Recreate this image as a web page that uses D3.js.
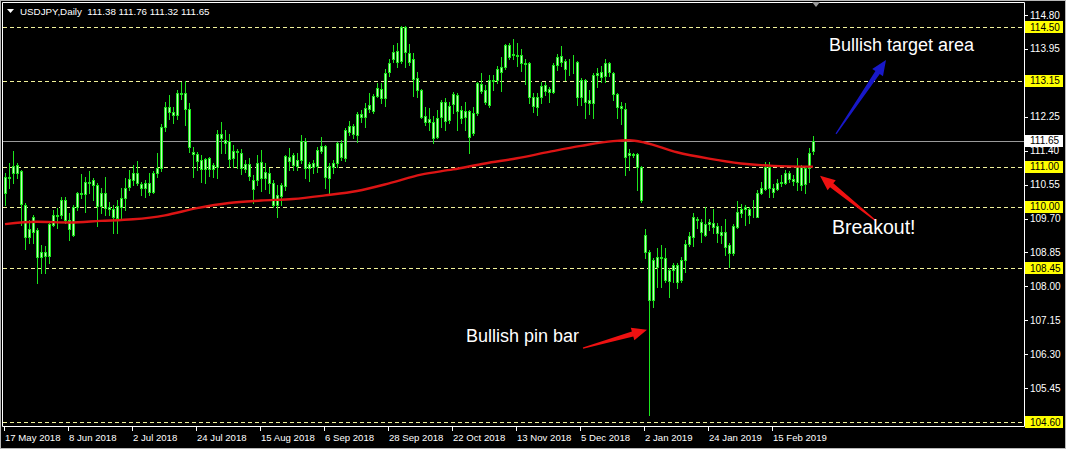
<!DOCTYPE html>
<html>
<head>
<meta charset="utf-8">
<script src="https://cdn.jsdelivr.net/npm/d3@7"></script>
<style>
  html, body { margin: 0; padding: 0; background: #000; }
  svg { display: block; }
</style>
</head>
<body>
<div id="chart"></div>
<script>
// USDJPY daily bars: [open, high, low, close]
const ohlc = [
  [110.33,110.85,110.04,110.75],[110.75,111.08,110.46,110.72],[110.83,111.38,110.58,111.02],[111.04,111.08,110.71,110.83],
  [110.88,110.92,109.54,110.07],[110.04,110.08,108.93,109.23],[109.23,109.66,109.08,109.43],[109.37,109.79,109.08,109.73],
  [109.40,109.46,108.08,108.73],[108.73,109.04,108.33,108.87],[108.87,109.00,108.34,108.76],[108.76,109.58,108.58,109.56],
  [109.54,109.91,109.50,109.79],[109.79,109.96,109.45,109.77],[109.79,110.25,109.71,110.17],[110.17,110.25,109.58,109.66],
  [109.66,109.83,109.16,109.43],[109.29,110.04,109.26,110.00],[110.00,110.37,109.91,110.35],[110.35,110.81,110.21,110.31],
  [110.31,110.75,109.87,110.62],[110.62,110.88,110.33,110.58],[110.54,110.71,110.17,110.67],[110.54,110.58,109.50,110.02],
  [110.02,110.46,109.83,110.33],[110.33,110.75,109.79,109.96],[109.98,110.12,109.79,109.95],[109.93,110.04,109.33,109.75],
  [109.71,110.17,109.33,110.02],[109.98,110.46,109.66,110.21],[110.21,110.71,109.91,110.46],[110.48,110.92,110.42,110.68],
  [110.67,111.04,110.54,110.85],[110.85,111.13,110.54,110.58],[110.57,110.62,110.29,110.46],[110.46,110.67,110.25,110.60],
  [110.60,110.83,110.29,110.37],[110.37,110.88,110.33,110.83],[110.83,111.33,110.75,110.96],[110.96,112.08,110.90,112.00],
  [112.00,112.62,111.90,112.50],[112.50,112.80,112.20,112.38],[112.36,112.50,112.10,112.30],[112.30,112.92,112.20,112.85],
  [112.85,113.13,112.70,112.82],[112.84,113.15,112.04,112.44],[112.44,112.59,111.37,111.48],[111.37,111.50,110.73,111.31],
  [111.31,111.37,110.92,111.15],[111.17,111.29,110.62,110.95],[110.93,111.21,110.58,111.18],[111.21,111.25,110.77,110.95],
  [110.95,111.08,110.75,111.04],[111.00,111.93,110.71,111.83],[111.83,112.13,111.33,111.71],[111.68,111.92,111.33,111.60],
  [111.64,111.82,111.00,111.18],[111.21,111.54,111.00,111.38],[111.39,111.43,110.96,111.36],[111.33,111.43,110.82,110.96],
  [110.95,111.17,110.87,111.06],[111.07,111.21,110.67,110.77],[110.67,110.79,110.08,110.43],[110.67,111.29,110.54,111.10],
  [111.12,111.42,110.40,110.71],[110.71,111.08,110.43,110.87],[110.85,110.96,110.35,110.58],[110.60,110.67,110.00,110.04],
  [110.04,110.54,109.75,110.29],[110.26,110.58,110.04,110.54],[110.52,111.29,110.42,111.27],[111.25,111.46,110.92,111.15],
  [111.04,111.33,110.92,111.29],[111.17,111.33,110.92,111.02],[111.17,111.79,111.08,111.65],[111.65,111.73,110.71,110.96],
  [110.96,111.12,110.65,111.07],[111.10,111.17,110.83,111.00],[111.02,111.50,110.87,111.42],[111.38,111.75,111.33,111.52],
  [111.52,111.54,110.46,110.73],[110.71,111.08,110.35,111.02],[111.00,111.17,110.83,111.10],[111.08,111.63,111.00,111.60],
  [111.60,111.67,111.17,111.23],[111.21,111.96,111.15,111.92],[111.88,112.15,111.79,112.02],[112.02,112.08,111.71,111.82],
  [111.79,112.38,111.63,112.33],[112.31,112.42,112.13,112.25],[112.25,112.59,112.00,112.46],[112.44,112.84,112.38,112.54],
  [112.40,112.82,112.34,112.77],[112.77,113.09,112.74,112.96],[112.94,113.09,112.59,112.71],[112.71,113.44,112.52,113.34],
  [113.36,113.71,113.27,113.60],[113.69,114.05,113.63,113.88],[113.91,114.09,113.49,113.63],[113.66,114.52,113.59,114.50],
  [114.49,114.52,113.50,113.88],[113.86,114.07,113.55,113.63],[113.69,113.84,112.78,113.19],[113.21,113.38,112.74,112.92],
  [112.92,112.94,112.21,112.24],[112.27,112.50,112.04,112.13],[112.13,112.46,111.92,112.19],[112.13,112.27,111.60,111.73],
  [111.75,112.42,111.71,112.21],[112.24,112.67,112.00,112.63],[112.63,112.71,111.92,112.15],[112.17,112.63,112.09,112.52],
  [112.57,112.88,112.34,112.82],[112.80,112.84,111.93,112.40],[112.42,112.52,112.09,112.21],[112.24,112.63,111.92,112.40],
  [112.40,112.42,111.35,111.75],[111.85,112.50,111.79,112.34],[112.34,113.13,112.30,113.09],[113.07,113.34,112.85,112.90],
  [112.92,113.05,112.57,112.63],[112.55,113.30,112.50,113.17],[113.17,113.30,112.92,113.15],[113.17,113.51,113.09,113.44],
  [113.49,113.76,112.90,113.38],[113.49,114.07,113.44,114.05],[114.05,114.09,113.69,113.76],[113.79,114.19,113.69,113.82],
  [113.80,114.11,113.52,113.78],[113.80,113.95,113.40,113.59],[113.60,113.70,113.07,113.58],[113.61,113.63,112.60,112.75],
  [112.75,112.85,112.38,112.52],[112.50,112.84,112.30,112.74],[112.74,113.13,112.60,113.02],[113.05,113.13,112.80,112.90],
  [112.94,113.00,112.63,112.88],[112.88,113.61,112.85,113.55],[113.55,113.82,113.42,113.74],[113.63,114.02,113.51,113.77],
  [113.66,113.69,113.16,113.44],[113.47,113.69,113.30,113.46],[113.59,113.80,113.34,113.61],[113.63,113.66,112.55,112.74],
  [112.75,113.21,112.55,113.17],[113.17,113.19,112.21,112.63],[112.60,112.92,112.32,112.67],[112.59,113.34,112.21,113.30],
  [113.30,113.46,113.00,113.34],[113.37,113.51,113.13,113.24],[113.27,113.69,113.13,113.59],[113.59,113.63,113.26,113.36],
  [113.34,113.38,112.67,112.82],[112.82,112.85,112.21,112.50],[112.52,112.63,112.08,112.46],[112.44,112.60,110.79,111.25],
  [111.29,111.43,110.92,111.33],[111.32,111.35,111.23,111.30],[111.32,111.33,110.41,110.98],[111.00,111.02,110.12,110.16],
  [109.29,109.43,108.70,108.87],[108.87,108.90,104.78,107.66],[107.66,108.70,107.49,108.66],[108.49,108.95,107.99,108.73],
  [108.73,109.04,107.99,108.70],[108.70,108.95,108.12,108.16],[108.14,108.45,107.74,108.41],[108.41,108.58,108.12,108.54],
  [108.54,108.58,107.95,108.12],[108.16,108.74,108.12,108.66],[108.66,109.16,108.37,109.06],[109.06,109.37,109.01,109.25],
  [109.23,109.85,109.01,109.73],[109.68,109.73,109.45,109.66],[109.62,109.68,109.12,109.37],[109.29,109.98,109.26,109.56],
  [109.56,109.70,109.41,109.62],[109.60,109.93,109.33,109.48],[109.51,109.58,109.12,109.33],[109.35,109.51,109.09,109.29],
  [109.37,109.70,108.79,108.99],[108.84,109.08,108.48,109.04],[108.84,109.56,108.79,109.50],[109.48,110.15,109.45,109.87],
  [109.85,110.06,109.75,109.93],[109.93,110.04,109.54,109.98],[109.93,109.98,109.58,109.79],[109.79,110.16,109.75,109.80],
  [109.75,110.41,109.73,110.35],[110.33,110.62,110.32,110.46],[110.43,111.12,110.41,111.00],[111.00,111.12,110.23,110.46],
  [110.46,110.56,110.23,110.37],[110.43,110.68,110.41,110.60],[110.60,110.79,110.52,110.62],[110.60,110.92,110.56,110.85],
  [110.85,110.90,110.62,110.68],[110.68,110.79,110.54,110.65],[110.62,111.21,110.41,111.02],[111.00,111.04,110.41,110.54],
  [110.56,111.00,110.33,110.96],[110.96,111.46,110.62,111.35],[111.38,111.76,111.32,111.65]
];

// moving average (red), sampled at bar indices
const maBars   = [0, 8, 16, 24, 32, 40, 48, 56, 64, 72, 80, 88, 96, 104, 112, 120, 128, 136, 144, 152, 156, 160, 168, 176, 184, 192, 202];
const maValues = [109.56, 109.62, 109.60, 109.64, 109.68, 109.78, 109.96, 110.09, 110.15, 110.19, 110.28, 110.39, 110.58, 110.80,
                  110.93, 111.08, 111.21, 111.37, 111.52, 111.64, 111.66, 111.60, 111.36, 111.20, 111.08, 111.02, 111.00];

const priceTicks = [114.80, 113.95, 113.10, 112.25, 111.40, 110.55, 109.70, 108.85, 108.00, 107.15, 106.30, 105.45, 104.60];
const levels = [114.50, 113.15, 111.00, 110.00, 108.45, 104.60];
const lastPrice = 111.65;

const dateBars   = [0, 16, 32, 48, 64, 80, 96, 112, 128, 144, 160, 176, 192];
const dateLabels = ["17 May 2018", "8 Jun 2018", "2 Jul 2018", "24 Jul 2018", "15 Aug 2018", "6 Sep 2018", "28 Sep 2018",
                    "22 Oct 2018", "13 Nov 2018", "5 Dec 2018", "2 Jan 2019", "24 Jan 2019", "15 Feb 2019"];

const header = "USDJPY,Daily  111.38 111.76 111.32 111.65";

// annotations: text + arrow in [bar, price] coordinates
const notes = [
  { text: "Bullish target area", at: [206, 113.90], size: 18, from: [207.75, 111.82], to: [220.25, 113.67], color: "#1818c8" },
  { text: "Breakout!",           at: [206.75, 109.30], size: 19.5, from: [217.75, 109.64], to: [203.75, 110.77], color: "#ee1111" },
  { text: "Bullish pin bar",     at: [115.25, 106.60], size: 18, from: [144.5, 106.45],  to: [160.5, 106.91],  color: "#ee1111" }
];

const width = 1066, height = 449;
const plotRight = 1024, plotBottom = 426;

const x = d3.scaleLinear().domain([0, 202]).range([5, 813]);
const y = d3.scaleLinear().domain([104.60, 114.50]).range([422, 27]);

const svg = d3.select("#chart").append("svg")
    .attr("width", width)
    .attr("height", height)
    .style("font-family", "'Liberation Sans', Arial, sans-serif");

svg.append("rect").attr("width", width).attr("height", height).attr("fill", "#000");

// level lines
svg.append("g").selectAll("line")
    .data(levels)
    .join("line")
    .attr("x1", 3).attr("x2", plotRight)
    .attr("y1", d => Math.round(y(d)) + 0.5).attr("y2", d => Math.round(y(d)) + 0.5)
    .attr("stroke", "#f2f29a")
    .attr("stroke-dasharray", "4,3");

// current price line
svg.append("line")
    .attr("x1", 3).attr("x2", plotRight)
    .attr("y1", Math.round(y(lastPrice)) + 0.5).attr("y2", Math.round(y(lastPrice)) + 0.5)
    .attr("stroke", "#9a9a9a");

// candles
const px = i => Math.round(x(i));
const candles = svg.append("g").selectAll("g")
    .data(ohlc)
    .join("g");

candles.append("line")
    .attr("x1", (d, i) => px(i) + 0.5).attr("x2", (d, i) => px(i) + 0.5)
    .attr("y1", d => Math.round(y(d[1]))).attr("y2", d => Math.round(y(d[2])) + 1)
    .attr("stroke", "#1de51d");

candles.append("rect")
    .attr("x", (d, i) => px(i) - 0.5)
    .attr("y", d => Math.round(y(Math.max(d[0], d[3]))) + 0.5)
    .attr("width", 2)
    .attr("height", d => Math.max(0, Math.round(y(Math.min(d[0], d[3]))) - Math.round(y(Math.max(d[0], d[3])))))
    .attr("fill", "#c4fabe")
    .attr("stroke", "#1de51d");

// moving average
const maPoints = maBars.map((b, k) => [b, maValues[k]]);
svg.append("path")
    .datum(maPoints)
    .attr("fill", "none")
    .attr("stroke", "#dc1414")
    .attr("stroke-width", 2.4)
    .attr("d", d3.line().x(d => x(d[0])).y(d => y(d[1])).curve(d3.curveMonotoneX));

// frame
svg.append("path")
    .attr("d", `M2.5,2.5H${plotRight + 0.5}V${plotBottom + 0.5}H2.5Z`)
    .attr("fill", "none")
    .attr("stroke", "#ffffff");

// price axis
const pAxis = svg.append("g");
pAxis.selectAll("line")
    .data(priceTicks)
    .join("line")
    .attr("x1", plotRight + 1).attr("x2", plotRight + 4)
    .attr("y1", d => Math.round(y(d)) + 0.5).attr("y2", d => Math.round(y(d)) + 0.5)
    .attr("stroke", "#fff");
pAxis.selectAll("text")
    .data(priceTicks)
    .join("text")
    .attr("x", 1030).attr("y", d => y(d) + 3.5)
    .attr("fill", "#fff")
    .attr("font-size", "10px")
    .text(d => d.toFixed(2));

const boxes = svg.append("g").selectAll("g")
    .data(levels.map(v => ({ v, bg: "#ffff00" })).concat([{ v: lastPrice, bg: "#ffffff" }]))
    .join("g");
boxes.append("rect")
    .attr("x", 1025).attr("y", d => Math.round(y(d.v)) - 6)
    .attr("width", 38).attr("height", 12)
    .attr("fill", d => d.bg);
boxes.append("text")
    .attr("x", 1030).attr("y", d => y(d.v) + 3.5)
    .attr("fill", "#000")
    .attr("font-size", "10px")
    .text(d => d.v.toFixed(2));

// date axis
const dAxis = svg.append("g");
dAxis.selectAll("line")
    .data(dateBars)
    .join("line")
    .attr("x1", d => px(d) - 0.5).attr("x2", d => px(d) - 0.5)
    .attr("y1", plotBottom + 1).attr("y2", plotBottom + 5)
    .attr("stroke", "#fff");
dAxis.selectAll("text")
    .data(dateBars)
    .join("text")
    .attr("x", d => x(d))
    .attr("y", 441)
    .attr("fill", "#fff")
    .attr("font-size", "9.6px")
    .text((d, k) => dateLabels[k]);

// header
svg.append("path").attr("d", "M7,9H14L10.5,13Z").attr("fill", "#fff");
svg.append("text")
    .attr("x", 20).attr("y", 15)
    .attr("fill", "#fff")
    .attr("font-size", "9.8px")
    .attr("xml:space", "preserve")
    .style("white-space", "pre")
    .text(header);

// shift marker at top
svg.append("path")
    .attr("d", `M${px(202) - 1},2H${px(202) + 7}L${px(202) + 3},7Z`)
    .attr("fill", "#9a9a9a");

// tapered arrows
const arrow = (p0, p1) => {
  const x0 = x(p0[0]), y0 = y(p0[1]), x1 = x(p1[0]), y1 = y(p1[1]);
  const dx = x1 - x0, dy = y1 - y0, len = Math.hypot(dx, dy);
  const ux = dx / len, uy = dy / len, nx = -uy, ny = ux;
  const headL = 15, headW = 6.5, tail = 0.6, neck = 2.6;
  const bx = x1 - ux * headL, by = y1 - uy * headL;
  const pts = [
    [x0 + nx * tail, y0 + ny * tail],
    [bx + nx * neck, by + ny * neck],
    [bx + nx * headW, by + ny * headW],
    [x1, y1],
    [bx - nx * headW, by - ny * headW],
    [bx - nx * neck, by - ny * neck],
    [x0 - nx * tail, y0 - ny * tail]
  ];
  return "M" + pts.map(p => p.join(",")).join("L") + "Z";
};

const ann = svg.append("g").selectAll("g").data(notes).join("g");
ann.append("path").attr("d", d => arrow(d.from, d.to)).attr("fill", d => d.color);
ann.append("text")
    .attr("x", d => x(d.at[0]))
    .attr("y", d => y(d.at[1]))
    .attr("fill", "#fff")
    .attr("font-size", d => d.size + "px")
    .text(d => d.text);

// window edge
svg.append("rect")
    .attr("x", 0.5).attr("y", 0.5).attr("width", width - 1).attr("height", height - 1)
    .attr("fill", "none").attr("stroke", "#b8b8b8");
</script>
</body>
</html>
